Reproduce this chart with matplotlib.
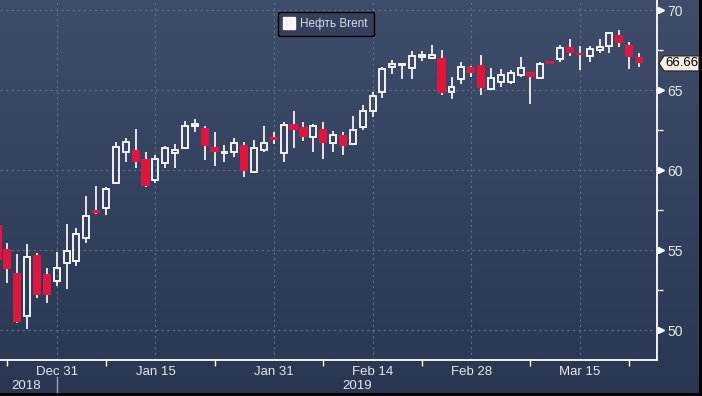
import numpy as np
import matplotlib
matplotlib.use('Agg')
from matplotlib import pyplot as plt
from matplotlib.patches import Rectangle, Polygon
from matplotlib.lines import Line2D
from matplotlib.colors import LinearSegmentedColormap
import matplotlib.transforms as mtransforms

# daily Brent candles, trading days only
dates = ['Dec 19', 'Dec 20', 'Dec 21', 'Dec 24', 'Dec 27', 'Dec 28', 'Dec 31',
         'Jan 2', 'Jan 3', 'Jan 4', 'Jan 7', 'Jan 8', 'Jan 9', 'Jan 10', 'Jan 11',
         'Jan 14', 'Jan 15', 'Jan 16', 'Jan 17', 'Jan 18', 'Jan 21', 'Jan 22',
         'Jan 23', 'Jan 24', 'Jan 25', 'Jan 28', 'Jan 29', 'Jan 30', 'Jan 31',
         'Feb 1', 'Feb 4', 'Feb 5', 'Feb 6', 'Feb 7', 'Feb 8', 'Feb 11', 'Feb 12',
         'Feb 13', 'Feb 14', 'Feb 15', 'Feb 18', 'Feb 19', 'Feb 20', 'Feb 21',
         'Feb 22', 'Feb 25', 'Feb 26', 'Feb 27', 'Feb 28', 'Mar 1', 'Mar 4',
         'Mar 5', 'Mar 6', 'Mar 7', 'Mar 8', 'Mar 11', 'Mar 12', 'Mar 13',
         'Mar 14', 'Mar 15', 'Mar 18', 'Mar 19', 'Mar 20', 'Mar 21', 'Mar 22',
         'Mar 25']
opens = [56.56, 55.04, 53.54, 50.90, 54.69, 53.50, 53.06,
         54.17, 54.33, 55.73, 57.50, 57.64, 59.17, 61.15, 61.25,
         60.69, 59.38, 60.46, 61.08, 61.35, 62.77, 62.65,
         61.46, 61.04, 61.15, 61.56, 59.90, 61.25, 62.04,
         61.08, 62.88, 62.67, 62.08, 62.54, 61.71, 62.19, 61.60,
         62.71, 63.71, 64.90, 66.42, 66.58, 66.35, 67.10,
         66.98, 66.98, 64.85, 65.67, 66.42, 66.56, 65.04,
         65.48, 65.52, 65.94, 66.10, 65.77, 66.76, 66.94,
         67.71, 67.27, 67.15, 67.50, 67.75, 68.44, 67.81,
         67.08]
highs = [56.70, 55.42, 54.75, 55.38, 54.80, 53.85, 54.90,
         56.63, 56.35, 58.38, 59.00, 58.92, 61.73, 62.02, 62.56,
         61.10, 60.94, 61.52, 61.63, 63.06, 63.19, 62.75,
         62.35, 61.56, 61.98, 61.73, 61.88, 62.75, 62.35,
         63.02, 63.69, 63.02, 62.88, 63.02, 62.44, 62.35, 63.38,
         64.06, 64.90, 66.46, 66.88, 66.71, 67.46, 67.42,
         67.80, 67.50, 65.81, 66.73, 66.50, 67.19, 66.35,
         66.29, 66.25, 67.04, 66.15, 66.77, 66.80, 67.81,
         68.19, 67.77, 67.77, 68.19, 68.65, 68.75, 68.02,
         67.29]
lows = [54.20, 52.92, 50.45, 50.04, 52.00, 51.70, 52.77,
        52.56, 54.00, 55.46, 57.25, 57.19, 59.15, 60.52, 60.10,
        58.95, 59.20, 60.15, 60.15, 61.30, 62.35, 60.62,
        60.27, 60.52, 60.79, 59.58, 59.83, 61.15, 61.63,
        60.52, 61.40, 61.83, 61.15, 60.69, 61.15, 60.94, 61.58,
        62.50, 63.33, 64.52, 65.98, 65.67, 65.69, 66.81,
        66.95, 64.67, 64.42, 65.35, 65.81, 64.69, 65.00,
        65.21, 65.35, 65.83, 64.10, 65.75, 66.68, 66.77,
        67.13, 66.25, 66.77, 67.29, 67.29, 67.71, 66.29,
        66.46]
closes = [54.38, 53.81, 50.52, 54.54, 52.21, 52.21, 53.85,
          54.96, 56.00, 57.13, 57.30, 58.79, 61.46, 61.73, 60.52,
          59.00, 60.67, 61.35, 61.25, 62.75, 62.85, 61.52,
          61.15, 61.15, 61.67, 59.96, 61.35, 61.67, 61.90,
          62.81, 62.52, 62.04, 62.75, 61.67, 62.19, 61.52, 62.50,
          63.69, 64.63, 66.31, 66.60, 66.62, 67.13, 67.15,
          67.19, 64.79, 65.21, 66.42, 66.04, 65.10, 65.73,
          65.94, 66.08, 66.35, 65.79, 66.60, 66.70, 67.60,
          67.29, 67.23, 67.56, 67.71, 68.54, 67.92, 67.04,
          66.66]

x_labels = ['Dec 31', 'Jan 15', 'Jan 31', 'Feb 14', 'Feb 28', 'Mar 15']
x_minor = ['Dec 20', 'Jan 8', 'Jan 23', 'Feb 7', 'Feb 21', 'Mar 8', 'Mar 22']
y_major = [50, 55, 60, 65, 70]
y_minor = [52.5, 57.5, 62.5, 67.5]
years = ['2018', '2019']
series_name = 'Нефть Brent'

RED = '#e0163f'
TXT = '#e4e7ee'
GRID = '#5d7190'
plt.rcParams['font.family'] = ['Liberation Sans', 'DejaVu Sans']

W, H = 702, 396
fig = plt.figure(figsize=(W / 100, H / 100), dpi=100)

# background gradient
bg = fig.add_axes([0, 0, 1, 1], zorder=-10)
cmap = LinearSegmentedColormap.from_list('bg', ['#2a3752', '#3f4d6b'])
bg.imshow(np.linspace(0, 1, 256).reshape(-1, 1), aspect='auto', cmap=cmap,
          origin='lower', extent=[0, 1, 0, 1])
bg.axis('off')

ax = fig.add_axes([0, 36 / H, 657 / W, 360 / H])
ax.patch.set_alpha(0)
xs = np.arange(len(dates))
ax.set_xlim(0.255, 66.82)
ax.set_ylim(48.125, 70.625)

# candles
wr, ww = 0.84, 0.6
for i, o, h, l, c in zip(xs, opens, highs, lows, closes):
    if c >= o:
        top, bot = c, o
        if top - bot < 0.08:
            top, bot = (top + bot) / 2 + 0.04, (top + bot) / 2 - 0.04
        ax.plot([i, i], [top, h], color='white', lw=1.2, solid_capstyle='butt')
        ax.plot([i, i], [l, bot], color='white', lw=1.2, solid_capstyle='butt')
        ax.add_patch(Rectangle((i - ww / 2, bot), ww, top - bot, facecolor='none',
                               edgecolor='white', lw=1.3, zorder=3))
    else:
        top, bot = o, c
        if top - bot < 0.15:
            top, bot = (top + bot) / 2 + 0.075, (top + bot) / 2 - 0.075
        ax.plot([i, i], [l, h], color='white', lw=1.2, solid_capstyle='butt', zorder=2)
        ax.add_patch(Rectangle((i - wr / 2, bot), wr, top - bot, facecolor=RED,
                               edgecolor='none', zorder=3))

idx = {d: k for k, d in enumerate(dates)}
ax.set_xticks([idx[d] for d in x_labels])
ax.set_xticklabels(x_labels)
ax.set_xticks([idx[d] for d in x_minor], minor=True)
ax.yaxis.tick_right()
ax.set_yticks(y_major)
ax.set_yticks(y_minor, minor=True)
ax.tick_params(axis='x', which='major', length=0, pad=4, labelsize=9.5, labelcolor=TXT)
ax.tick_params(axis='x', which='minor', length=4, width=1, color='white')
ax.tick_params(axis='y', which='major', length=0, pad=7.5, labelsize=10, labelcolor=TXT)
ax.tick_params(axis='y', which='minor', length=4, width=1, color='white')
ax.grid(True, which='major', color=GRID, linestyle=(0, (2, 3)), lw=0.8)
ax.set_axisbelow(True)
for s in ['left', 'top']:
    ax.spines[s].set_visible(False)
for s in ['right', 'bottom']:
    ax.spines[s].set_color('white')
    ax.spines[s].set_linewidth(1.3)

# triangle markers on the price axis
ytr = mtransforms.blended_transform_factory(ax.transAxes, ax.transData)
ax.plot([1 + 4 / 657] * len(y_major), y_major, linestyle='none', marker='>',
        markersize=5, color='white', transform=ytr, clip_on=False)

# year labels
xtr = mtransforms.blended_transform_factory(ax.transData, ax.transAxes)
ax.text(2.9, -0.072, years[0], transform=xtr, ha='center', va='center',
        fontsize=9.5, color=TXT)
ax.text(36.4, -0.072, years[1], transform=xtr, ha='center', va='center',
        fontsize=9.5, color=TXT)
ax.plot([idx['Dec 31']] * 2, [-0.047, -0.092], color='#9aa3b3', lw=1,
        transform=xtr, clip_on=False)

# legend
handle = Line2D([], [], linestyle='none', marker='s', markersize=8,
                markerfacecolor='#fff4f4', markeredgecolor='#fff4f4')
leg = ax.legend([handle], [series_name], loc='center',
                bbox_to_anchor=(326 / 657, 1 - 24 / 360), fontsize=8.5,
                handlelength=0.8, handletextpad=0.5, borderpad=0.55,
                borderaxespad=0, fancybox=True, framealpha=1)
leg.get_frame().set_facecolor('#33415d')
leg.get_frame().set_edgecolor('black')
leg.get_frame().set_linewidth(1.0)
for t in leg.get_texts():
    t.set_color('#d9dce4')

# last price tag
last = closes[-1]
fig.canvas.draw()
yp = ax.transData.transform((0, last))[1]
tag = Polygon([(659, yp), (664, yp + 7.5), (699, yp + 7.5), (699, yp - 7.5),
               (664, yp - 7.5)], closed=True, facecolor='#f6efe4',
              edgecolor='#222222', lw=0.8, transform=mtransforms.IdentityTransform())
fig.add_artist(tag)
fig.text(682 / W, yp / H, f'{last:.2f}', ha='center', va='center',
         fontsize=9.5, color='black')

# black frame edges
fig.add_artist(Rectangle((699 / W, 0), 3 / W, 1, transform=fig.transFigure,
                         facecolor='black', edgecolor='none'))
fig.add_artist(Rectangle((0, 0), 1, 3 / H, transform=fig.transFigure,
                         facecolor='black', edgecolor='none'))

fig.savefig('out.png', dpi=100)
